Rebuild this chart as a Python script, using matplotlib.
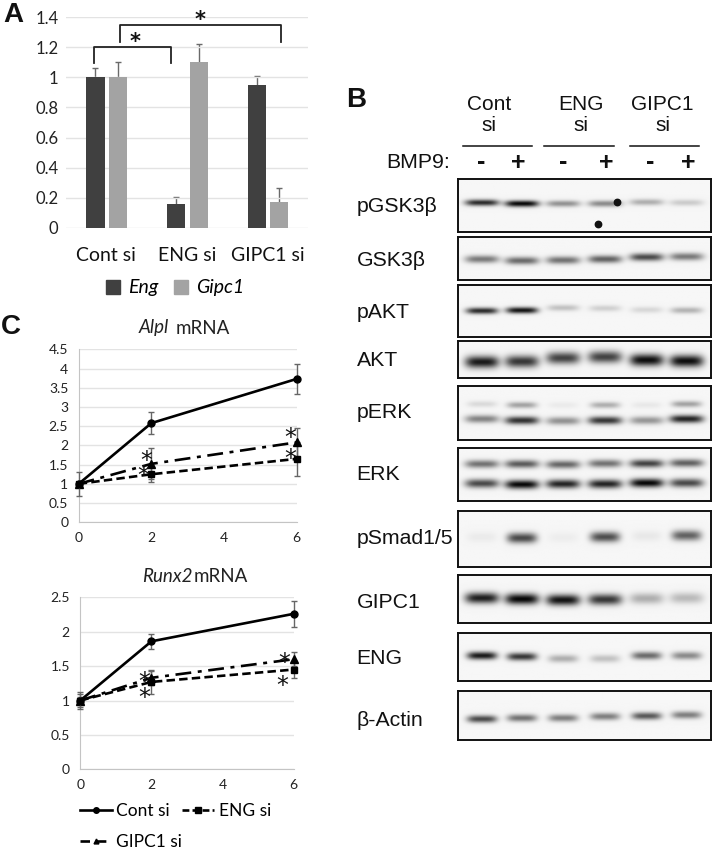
import numpy as np
import matplotlib
matplotlib.use("Agg")
import matplotlib.pyplot as plt
from matplotlib.lines import Line2D
from matplotlib.patches import Patch

W, H = 714, 861
plt.rcParams['font.family'] = ['Lato', 'DejaVu Sans']

# ---------- data: panel A
groups = ['Cont si', 'ENG si', 'GIPC1 si']
eng = [1.0, 0.155, 0.95]
eng_err = [0.065, 0.05, 0.06]
gipc1 = [1.0, 1.10, 0.17]
gipc1_err = [0.105, 0.125, 0.095]
a_ticks = [0, 0.2, 0.4, 0.6, 0.8, 1, 1.2, 1.4]
a_ticklabels = ['0', '0.2', '0.4', '0.6', '0.8', '1', '1.2', '1.4']

# ---------- data: panel C
times = [0, 2, 6]
alpl_cont = [1.0, 2.58, 3.73]
alpl_cont_err = [0.32, 0.29, 0.40]
alpl_eng = [1.0, 1.25, 1.65]
alpl_eng_err = [0.05, 0.2, 0.45]
alpl_gipc = [1.0, 1.52, 2.08]
alpl_gipc_err = [0.05, 0.40, 0.38]
alpl_ticks = [0, 0.5, 1, 1.5, 2, 2.5, 3, 3.5, 4, 4.5]
alpl_ticklabels = ['0', '0.5', '1', '1.5', '2', '2.5', '3', '3.5', '4', '4.5']

runx_cont = [1.0, 1.86, 2.26]
runx_cont_err = [0.13, 0.11, 0.19]
runx_eng = [1.0, 1.27, 1.45]
runx_eng_err = [0.1, 0.17, 0.13]
runx_gipc = [1.0, 1.33, 1.60]
runx_gipc_err = [0.05, 0.1, 0.1]
runx_ticks = [0, 0.5, 1, 1.5, 2, 2.5]
runx_ticklabels = ['0', '0.5', '1', '1.5', '2', '2.5']
time_ticks = [0, 2, 4, 6]

# ---------- data: panel B band intensities per lane (0-1)
blot_names = ['pGSK3β', 'GSK3β', 'pAKT', 'AKT', 'pERK', 'ERK', 'pSmad1/5', 'GIPC1', 'ENG', 'β-Actin']
pgsk = [0.85, 1.0, 0.42, 0.45, 0.30, 0.18]
gsk = [0.52, 0.58, 0.55, 0.62, 0.72, 0.52]
pakt = [0.85, 0.95, 0.22, 0.16, 0.13, 0.28]
akt = [0.92, 0.80, 0.75, 0.75, 0.97, 0.97]
perk_up = [0.12, 0.35, 0.05, 0.30, 0.06, 0.35]
perk_lo = [0.48, 0.82, 0.42, 0.80, 0.40, 0.88]
erk_up = [0.55, 0.65, 0.60, 0.55, 0.75, 0.62]
erk_lo = [0.72, 1.0, 0.88, 0.88, 1.0, 0.72]
psmad = [0.05, 0.72, 0.04, 0.70, 0.06, 0.62]
gipc_b = [0.90, 1.0, 0.95, 0.80, 0.30, 0.25]
eng_b = [0.92, 0.80, 0.30, 0.22, 0.58, 0.45]
actin = [0.72, 0.55, 0.50, 0.50, 0.66, 0.50]

# ---------- layout (pixels)
fig = plt.figure(figsize=(W / 100, H / 100), dpi=100, facecolor='white')


def axpx(l, t, r, b, **kw):
    return fig.add_axes([l / W, 1 - b / H, (r - l) / W, (b - t) / H], **kw)


DARK, LIGHT, GRID = '#404040', '#a3a3a3', '#e3e3e3'

# Panel A
axA = axpx(66, 17.3, 308, 227.7)
xs = np.arange(3) + 0.5
axA.bar(xs - 0.135, eng, 0.225, color=DARK, yerr=eng_err,
        error_kw=dict(ecolor='#6a6a6a', lw=1, capsize=2.2, capthick=1, zorder=1), zorder=2)
axA.bar(xs + 0.145, gipc1, 0.225, color=LIGHT, yerr=gipc1_err,
        error_kw=dict(ecolor='#6a6a6a', lw=1, capsize=2.2, capthick=1, zorder=1), zorder=2)
axA.set_xlim(0, 3)
axA.set_ylim(0, 1.4)
axA.set_yticks(a_ticks, a_ticklabels, fontsize=12, color='#222222')
axA.set_xticks(xs, groups, fontsize=14, color='#111111')
axA.tick_params(length=0)
axA.tick_params(axis='x', pad=14)
axA.tick_params(axis='y', pad=5.5)
axA.grid(axis='y', color=GRID, lw=1, zorder=0)
for s in axA.spines.values():
    s.set_visible(False)
legA = axA.legend(handles=[Patch(color=DARK, label='Eng'), Patch(color=LIGHT, label='Gipc1')],
                  ncol=2, frameon=False, fontsize=14, handlelength=0.75, handleheight=0.75, handletextpad=0.4,
                  columnspacing=0.8, loc='center', bbox_to_anchor=(175 / W, 1 - 288 / H),
                  bbox_transform=fig.transFigure, borderpad=0)
for t in legA.get_texts():
    t.set_fontstyle('italic')


# Panel C
def line_panel(rect, cont, cont_e, en, en_e, gi, gi_e, ticks, labels, ymax):
    ax = axpx(*rect)
    ecol = '#666666'
    ax.errorbar(times, cont, yerr=cont_e, color='black', lw=1.9, marker='o', ms=5, ecolor=ecol, elinewidth=1,
                capsize=2.3, capthick=1, clip_on=False, zorder=5)
    ax.errorbar(times, gi, yerr=gi_e, color='black', lw=1.9, dashes=(6, 2.5, 1.5, 2.5), marker='^', ms=6,
                ecolor=ecol, elinewidth=1, capsize=2.3, capthick=1, clip_on=False, zorder=4)
    ax.errorbar(times, en, yerr=en_e, color='black', lw=1.9, dashes=(3.2, 1.6), marker='s', ms=4.8,
                ecolor=ecol, elinewidth=1, capsize=2.3, capthick=1, clip_on=False, zorder=4)
    ax.set_xlim(0, 6)
    ax.set_ylim(0, ymax)
    ax.set_xticks(time_ticks, [str(t) for t in time_ticks], fontsize=10, color='#222222')
    ax.set_yticks(ticks, labels, fontsize=10, color='#222222')
    ax.tick_params(length=0)
    ax.tick_params(axis='x', pad=7)
    ax.tick_params(axis='y', pad=7.5)
    ax.grid(axis='y', color=GRID, lw=1, zorder=0)
    ax.set_axisbelow(True)
    for n in ('top', 'right'):
        ax.spines[n].set_visible(False)
    for n in ('left', 'bottom'):
        ax.spines[n].set_color('#c4c4c4')
    return ax


axC1 = line_panel((78.7, 349.3, 296.7, 522.3), alpl_cont, alpl_cont_err, alpl_eng, alpl_eng_err,
                  alpl_gipc, alpl_gipc_err, alpl_ticks, alpl_ticklabels, 4.5)
axC2 = line_panel((80.3, 597.3, 293.7, 769.3), runx_cont, runx_cont_err, runx_eng, runx_eng_err,
                  runx_gipc, runx_gipc_err, runx_ticks, runx_ticklabels, 2.5)
axC2.legend(handles=[
    Line2D([], [], color='black', lw=1.9, marker='o', ms=4, label='Cont si'),
    Line2D([], [], color='black', lw=1.9, dashes=(3.6, 2.6), marker='^', ms=3.5, label='GIPC1 si'),
    Line2D([], [], color='black', lw=1.9, dashes=(2.6, 1.2), marker='s', ms=4, label='ENG si')],
    ncol=2, frameon=False, fontsize=12.5, handlelength=1.85, handletextpad=0.25, columnspacing=0.0,
    labelspacing=0.85, loc='upper left', bbox_to_anchor=(80 / W, 1 - 803 / H), bbox_transform=fig.transFigure,
    borderpad=0, borderaxespad=0)

# Panel B
lanes = [481.7, 521.7, 563, 605, 646.7, 686.7]
BX0, BX1 = 458, 710.7
# top, bottom, [(intensities, lane y-centres, half-height, half-width)]
blots = [
    (179, 231.7, [(pgsk, [202.5, 203.5, 203.5, 203.5, 202, 202.5], 3.2, 17)]),
    (236.7, 280, [(gsk, [259.5, 261, 260.5, 259.5, 257.5, 257], 3.8, 17)]),
    (284.7, 336.7, [(pakt, [310.5, 310, 307.5, 308, 309.5, 310], 3.2, 16)]),
    (341.3, 377.7, [(akt, [362, 361.5, 358, 357, 360, 361], 6, 17)]),
    (386, 440, [(perk_up, [404, 405, 405, 405, 405, 404], 3.2, 15), (perk_lo, [419, 420.5, 421, 420.5, 420.5, 419], 4, 17)]),
    (447.7, 501.3, [(erk_up, [464.5, 464.5, 465, 464, 464, 463.5], 4, 17), (erk_lo, [484, 485, 484.5, 484.5, 483.5, 483.5], 4.4, 17)]),
    (511.3, 566.7, [(psmad, [537, 538, 537.5, 537, 536, 535.5], 5.2, 15)]),
    (574.7, 623.3, [(gipc_b, [598.5, 599.5, 600.5, 600, 599, 598.5], 5.5, 17)]),
    (633, 680.7, [(eng_b, [655.5, 656.5, 658.5, 658.5, 655.5, 655.5], 3.9, 15)]),
    (691.3, 739.7, [(actin, [719, 718, 718, 716.5, 716, 715], 3.7, 15)]),
]
for top, bot, bands in blots:
    ax = axpx(BX0, top, BX1, bot)
    xx = np.linspace(BX0, BX1, 260)
    yy = np.linspace(top, bot, 100)
    X, Y = np.meshgrid(xx, yy)
    dens = np.zeros_like(X)
    for vals, ycs, hh, hw in bands:
        for lx, v, yc in zip(lanes, vals, ycs):
            dens += v * np.exp(-((X - lx) / hw) ** 4) * np.exp(-((Y - yc) / hh) ** 2)
    img = np.clip(0.965 - 0.94 * dens, 0, 1)
    ax.imshow(img, cmap='gray', vmin=0, vmax=1, extent=(BX0, BX1, bot, top), aspect='auto', interpolation='bilinear')
    ax.set_xticks([])
    ax.set_yticks([])
    for s in ax.spines.values():
        s.set_linewidth(1.4)
        s.set_color('#111111')

# Overlay in pixel coordinates for annotations
ov = fig.add_axes([0, 0, 1, 1], zorder=10)
ov.set_xlim(0, W)
ov.set_ylim(H, 0)
ov.axis('off')

ov.plot([597.7, 616.7], [224, 202], ls='none', marker='o', ms=4.6, color='#111111')

ARIAL = 'Liberation Sans'
for name, x, y in [('A', 3, 15), ('B', 346, 100), ('C', 1, 327)]:
    ov.text(x, y, name, fontsize=20, fontweight='bold', family=ARIAL, va='center', ha='left', color='#111111')

# blot labels
label_y = [207, 261, 312, 361, 413, 475, 539, 603, 658, 720]
for n, y in zip(blot_names, label_y):
    ov.text(356.5, y, n, family=ARIAL, fontsize=15.3, va='center', ha='left', color='#111111')

# headers
for t, x in [('Cont\nsi', 489), ('ENG\nsi', 580.7), ('GIPC1\nsi', 662.7)]:
    ov.text(x, 115, t, family=ARIAL, fontsize=15, ha='center', va='center', linespacing=1.1, color='#111111')
for x0, x1 in [(462.7, 532.3), (544, 614), (630, 699.3)]:
    ov.plot([x0, x1], [145.7, 145.7], color='#111111', lw=1.1)
ov.text(450, 162.5, 'BMP9:', family=ARIAL, fontsize=15.3, ha='right', va='center', color='#111111')
for s, x in zip(['-', '+', '-', '+', '-', '+'], [481, 518, 563, 606, 650, 688]):
    ov.text(x, 162.5, s, family=ARIAL, fontsize=18, fontweight='bold', ha='center', va='center', color='#111111')

# brackets
for x0, x1, top, bot in [(93.7, 171, 46.7, 62.7), (120, 281, 25.3, 42.3)]:
    ov.plot([x0, x0, x1, x1], [bot, top, top, bot], color='#222222', lw=1.3)


def star(x, y, size, weight='normal'):
    em = size * 100 / 72
    ov.text(x, y + 0.52 * em, '*', family='DejaVu Sans', fontsize=size, fontweight=weight,
            ha='center', va='baseline', color='#111111')


star(135, 37, 15, 'bold')
star(200, 15, 15, 'bold')
for x, y in [(146, 456), (143, 471), (290.7, 432.7), (290, 453.3),
             (144, 676.7), (144, 692.7), (284, 657.7), (282.7, 680.7)]:
    star(x, y, 17, 'normal')

for it, x0, x1, y in [('Alpl', 139, 176, 328), ('Runx2', 141.7, 194, 577)]:
    ov.text(x0, y, it, fontsize=13.5, style='italic', ha='left', va='center', color='#222222')
    ov.text(x1, y, 'mRNA', fontsize=13.5, ha='left', va='center', color='#222222')

fig.savefig('out.png', dpi=100, facecolor='white')
